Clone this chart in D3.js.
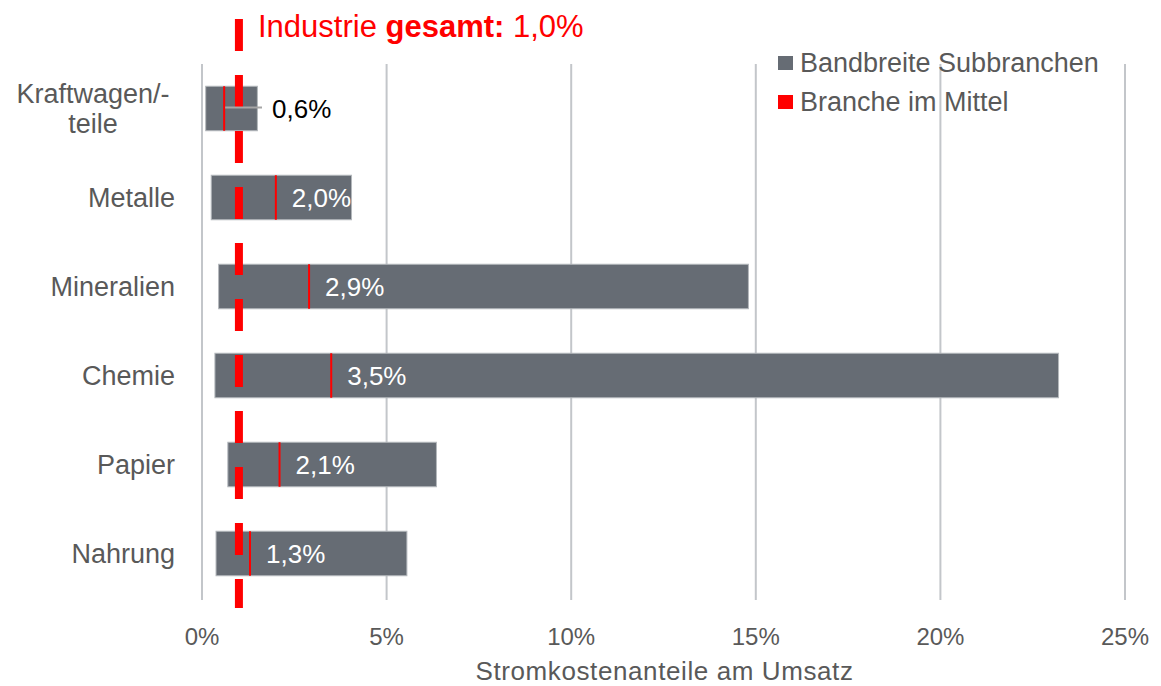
<!DOCTYPE html>
<html>
<head>
<meta charset="utf-8">
<script src="https://cdn.jsdelivr.net/npm/d3@7"></script>
<style>
  body { margin: 0; background: #fff; }
  text { font-family: "Liberation Sans", Arial, sans-serif; }
</style>
</head>
<body>
<svg width="1161" height="686"></svg>
<script>
const svg = d3.select("svg"),
    width = +svg.attr("width"),
    height = +svg.attr("height");

// data
const categories = ["Kraftwagen/-teile", "Metalle", "Mineralien", "Chemie", "Papier", "Nahrung"];
const minVals = [0.1, 0.25, 0.45, 0.35, 0.7, 0.38];
const maxVals = [1.5, 4.05, 14.8, 23.2, 6.35, 5.55];
const meanVals = [0.6, 2.0, 2.9, 3.5, 2.1, 1.3];
const industryMean = 1.0;
const xTicks = [0, 5, 10, 15, 20, 25];

const margin = {top: 64, right: 36, bottom: 88, left: 202};

const x = d3.scaleLinear()
    .domain([0, 25])
    .range([margin.left, 1125]);

const y = d3.scaleBand()
    .domain(categories)
    .range([margin.top, 598])
    .paddingInner(0.5)
    .paddingOuter(0.25);

const fmt = v => d3.format(".1f")(v).replace(".", ",") + "%";

// gridlines
svg.append("g")
  .selectAll("line")
  .data(xTicks)
  .join("line")
    .attr("x1", d => x(d))
    .attr("x2", d => x(d))
    .attr("y1", margin.top)
    .attr("y2", 600)
    .style("stroke", "#c3c6ca")
    .style("stroke-width", 2)

// tick labels
svg.append("g")
  .selectAll("text")
  .data(xTicks)
  .join("text")
    .attr("x", d => x(d))
    .attr("y", 645)
    .attr("text-anchor", "middle")
    .style("font-size", "24px")
    .style("fill", "#595959")
    .text(d => d + "%")

svg.append("text")
    .attr("x", (x(0) + x(25)) / 2 + 1)
    .attr("y", 680)
    .attr("text-anchor", "middle")
    .style("font-size", "26px")
    .style("letter-spacing", "0.6px")
    .style("fill", "#595959")
    .text("Stromkostenanteile am Umsatz")

// category labels
const catLabels = svg.append("g")
  .selectAll("text")
  .data(categories)
  .join("text")
    .style("font-size", "27px")
    .style("fill", "#595959")

catLabels.each(function(d){
  const t = d3.select(this);
  const parts = d === "Kraftwagen/-teile" ? ["Kraftwagen/-", "teile"] : [d];
  const cx = parts.length > 1 ? 93 : 175;
  t.attr("text-anchor", parts.length > 1 ? "middle" : "end")
   .attr("transform", "translate(" + cx + "," + (y(d) + y.bandwidth()/2) + ")");
  parts.forEach(function(p, i){
    t.append("tspan")
      .attr("x", 0)
      .attr("y", (i - (parts.length - 1) / 2) * 30)
      .attr("dy", "0.35em")
      .text(p);
  });
});

// range bars
svg.append("g")
  .selectAll("rect")
  .data(categories)
  .join("rect")
    .attr("x", (d, i) => x(minVals[i]))
    .attr("y", d => y(d))
    .attr("width", (d, i) => x(maxVals[i]) - x(minVals[i]))
    .attr("height", y.bandwidth())
    .style("fill", "#666c74")
    .style("stroke", "#b4b8bc")
    .style("stroke-width", 1)

// mean markers
svg.append("g")
  .selectAll("line")
  .data(categories)
  .join("line")
    .attr("x1", (d, i) => x(meanVals[i]))
    .attr("x2", (d, i) => x(meanVals[i]))
    .attr("y1", d => y(d))
    .attr("y2", d => y(d) + y.bandwidth())
    .style("stroke", "#ff0000")
    .style("stroke-width", 2)

// industry average dashed line
svg.append("line")
    .attr("x1", x(industryMean))
    .attr("x2", x(industryMean))
    .attr("y1", 19)
    .attr("y2", 608)
    .style("stroke", "#ff0000")
    .style("stroke-width", 8)
    .style("stroke-dasharray", "32,24")

// value labels
categories.forEach(function(d, i){
  const cy = y(d) + y.bandwidth()/2;
  if (i === 0) {
    svg.append("line")
      .attr("x1", x(meanVals[i]) + 1)
      .attr("x2", 262)
      .attr("y1", cy - 1)
      .attr("y2", cy - 1)
      .style("stroke", "#a6a6a6")
      .style("stroke-width", 2)
    svg.append("text")
      .attr("x", 272)
      .attr("y", cy)
      .attr("dy", "0.35em")
      .style("font-size", "26px")
      .style("fill", "#000")
      .text(fmt(meanVals[i]))
  } else {
    svg.append("text")
      .attr("x", x(meanVals[i]) + 16)
      .attr("y", cy)
      .attr("dy", "0.35em")
      .style("font-size", "26px")
      .style("fill", "#ffffff")
      .text(fmt(meanVals[i]))
  }
});

// title
const title = svg.append("text")
    .attr("x", 258)
    .attr("y", 37)
    .style("font-size", "31px")
    .style("fill", "#ff0000")
title.append("tspan").text("Industrie ")
title.append("tspan").style("font-weight", "bold").text("gesamt:")
title.append("tspan").text(" " + fmt(industryMean))

// legend
const legendItems = [
  {label: "Bandbreite Subbranchen", color: "#666c74"},
  {label: "Branche im Mittel", color: "#ff0000"}
];
const legend = svg.append("g")
  .selectAll("g")
  .data(legendItems)
  .join("g")
    .attr("transform", (d, i) => "translate(778," + (56 + i * 39) + ")")
legend.append("rect")
    .attr("width", 15)
    .attr("height", 14)
    .style("fill", d => d.color)
legend.append("text")
    .attr("x", 22)
    .attr("y", 16)
    .style("font-size", "27px")
    .style("fill", "#595959")
    .text(d => d.label)
</script>
</body>
</html>
